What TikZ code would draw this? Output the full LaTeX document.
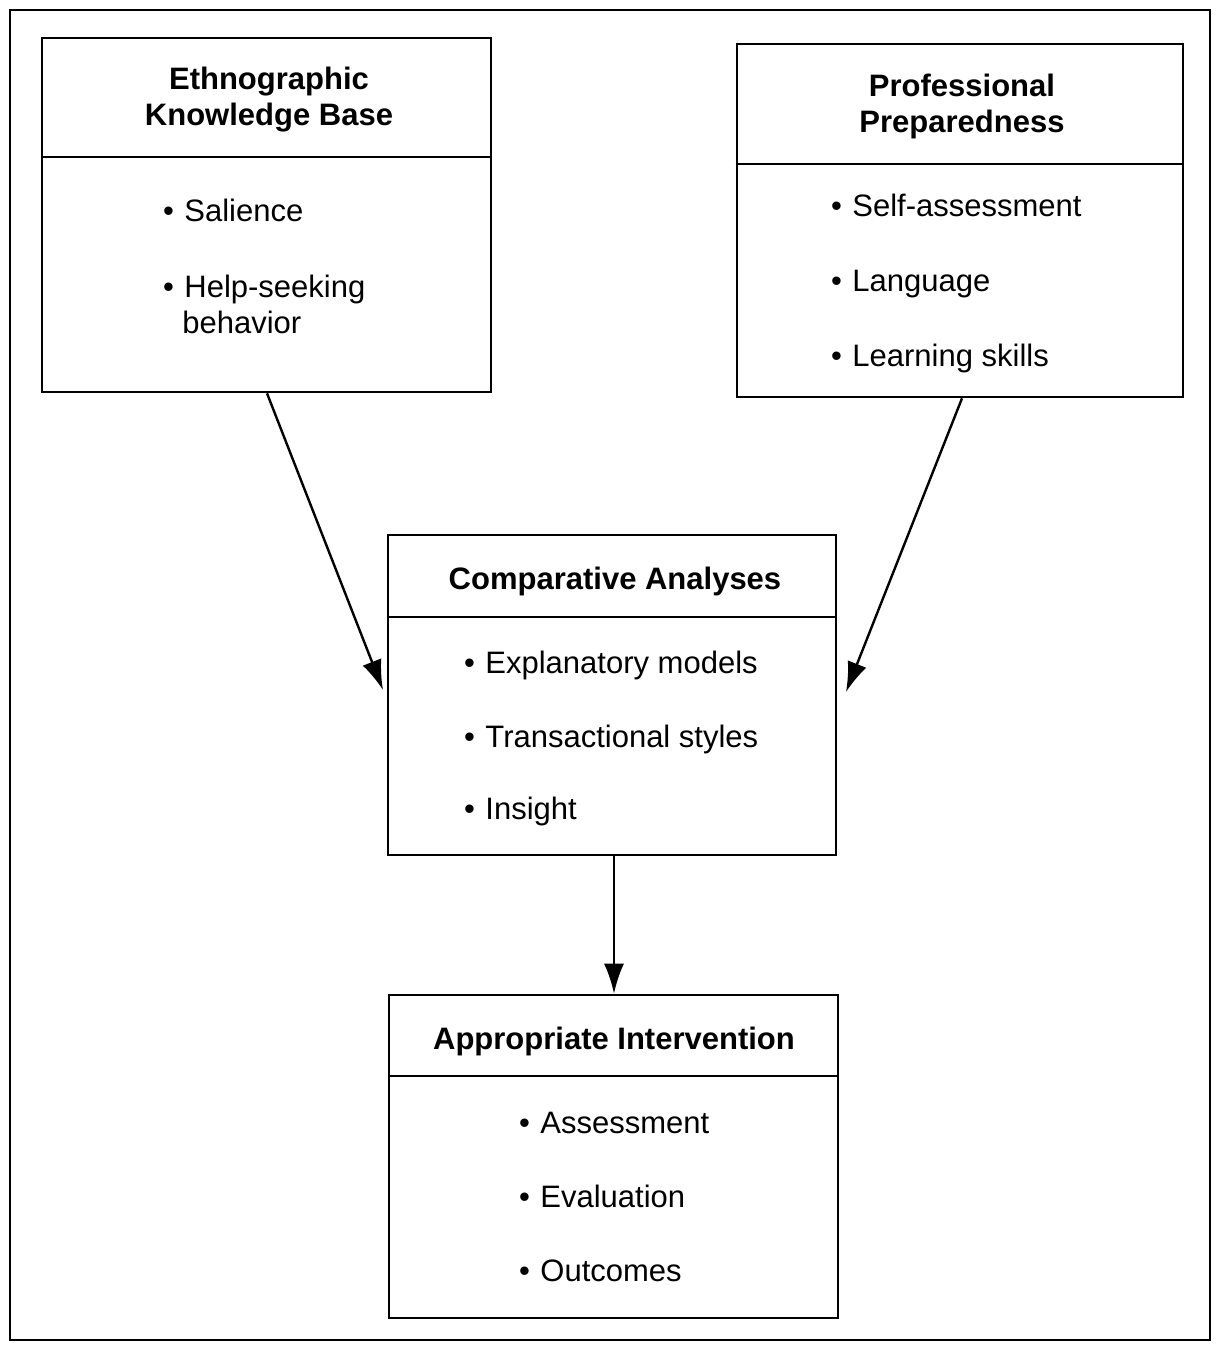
\documentclass[tikz,border=0pt]{standalone}
\usepackage{fontspec}
\setmainfont{Liberation Sans}
\usetikzlibrary{arrows.meta}
\newcommand{\bul}{\textbullet\hspace{5.3pt}}
\begin{document}
\begin{tikzpicture}[x=0.5pt,y=-0.5pt,
  box/.style={draw,line width=1.3pt,rectangle,inner sep=0pt},
  ttl/.style={font=\fontsize{15.5}{18}\selectfont\bfseries,align=center,inner sep=0pt},
  itm/.style={font=\fontsize{15.5}{18}\selectfont,anchor=base west,inner sep=0pt},
  arr/.style={line width=1.2pt,-{Latex[length=15pt,width=10pt]}},
  divl/.style={line width=1.2pt}]
\useasboundingbox (0,0) rectangle (1220,1350);
\node[draw,line width=1.3pt,minimum width=600pt,minimum height=665pt,inner sep=0pt] (frame) at (610,675) {};
% boxes
\node[box,minimum width=224.5pt,minimum height=177pt] (b1) at (266.5,215) {};
\node[box,minimum width=223pt,minimum height=176.5pt] (b2) at (960,220.5) {};
\node[box,minimum width=224pt,minimum height=160pt] (b3) at (612,695) {};
\node[box,minimum width=224.5pt,minimum height=161.5pt] (b4) at (613.5,1156.5) {};
% dividers
\draw[divl] ([yshift=-60pt]b1.north west) -- ([yshift=-60pt]b1.north east);
\draw[divl] ([yshift=-60.5pt]b2.north west) -- ([yshift=-60.5pt]b2.north east);
\draw[divl] ([yshift=-41.5pt]b3.north west) -- ([yshift=-41.5pt]b3.north east);
\draw[divl] ([yshift=-41pt]b4.north west) -- ([yshift=-41pt]b4.north east);
% titles
\node[ttl] (t1) at (269,100) {Ethnographic\\Knowledge Base};
\node[ttl] (t2) at (962,106) {Professional\\Preparedness};
\node[ttl] (t3) at (615,581) {Comparative Analyses};
\node[ttl] (t4) at (614,1041) {Appropriate Intervention};
% items
\node[itm] (i11) at (162.6,221) {\bul Salience};
\node[itm] (i12) at (162.6,297) {\bul Help-seeking};
\node[itm] (i13) at (182,333) {behavior};
\node[itm] (i21) at (830.6,216) {\bul Self-assessment};
\node[itm] (i22) at (830.6,291) {\bul Language};
\node[itm] (i23) at (830.6,366) {\bul Learning skills};
\node[itm] (i31) at (463.6,673) {\bul Explanatory models};
\node[itm] (i32) at (463.6,747) {\bul Transactional styles};
\node[itm] (i33) at (463.6,819) {\bul Insight};
\node[itm] (i41) at (518.6,1133) {\bul Assessment};
\node[itm] (i42) at (518.6,1207) {\bul Evaluation};
\node[itm] (i43) at (518.6,1281) {\bul Outcomes};
% connectors
\coordinate (a1) at (383,690);
\coordinate (a2) at (846,692);
\draw[arr] (b1.south -| 267,0) -- (a1);
\draw[arr] (b2.south -| 962,0) -- (a2);
\draw[arr] (b3.south -| 614,0) -- (b4.north -| 614,0);
\end{tikzpicture}
\end{document}
